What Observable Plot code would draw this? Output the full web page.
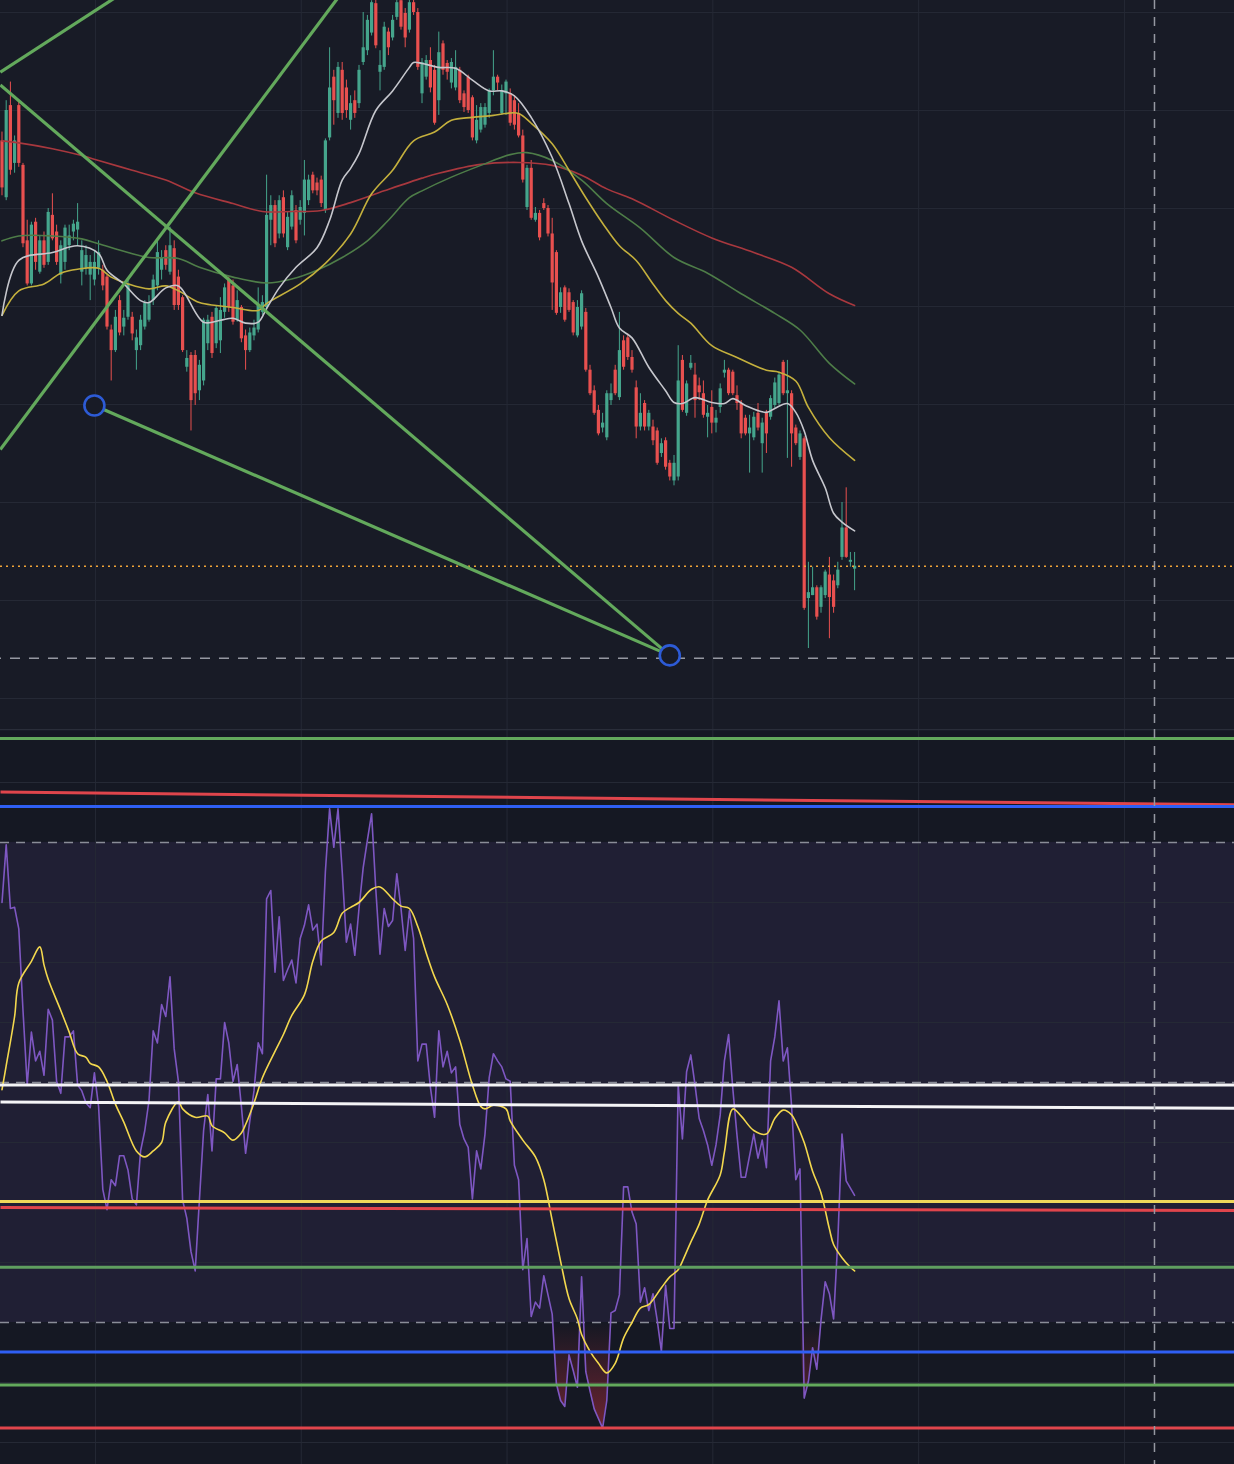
<!DOCTYPE html>
<html><head><meta charset="utf-8">
<script src="https://cdn.jsdelivr.net/npm/d3@7"></script>
<script src="https://cdn.jsdelivr.net/npm/@observablehq/plot@0.6"></script>
<style>
html,body{margin:0;padding:0;background:#181b26;}
#chart{width:1234px;height:1464px;overflow:hidden;}
#chart svg{display:block;}
</style></head>
<body><div id="chart"></div>
<script>
// ---------- price candles (one per bar) ----------
const open = [669,611,705,646,705,644,567,523,586,535,567,545,593,576,532,545,562,576,578,535,539,532,527,539,537,530,476,455,506,479,489,489,455,460,479,486,506,521,537,557,535,559,530,509,438,450,450,414,424,462,489,462,465,494,527,521,486,499,470,455,470,476,494,499,588,603,574,611,560,581,598,588,595,608,634,626,629,598,672,734,697,741,723,690,710,707,749,761,779,809,739,744,780,774,795,812,799,782,810,800,717,734,751,741,710,768,748,728,723,741,717,734,713,669,680,685,697,720,734,697,717,717,710,697,674,601,641,588,595,605,600,574,555,499,519,514,504,470,479,494,435,414,394,376,366,404,435,407,465,468,448,417,377,401,377,377,373,350,363,340,322,326,445,391,437,430,419,411,387,397,381,397,432,435,433,409,401,386,370,366,391,360,391,387,399,401,443,411,411,376,346,365,202,205,213,193,205,226,220,215,244,274,239,232];
const high = [678,710,729,674,710,646,588,586,590,572,576,600,615,583,567,583,583,588,605,567,562,552,557,567,542,532,481,496,511,496,529,494,476,491,506,511,532,567,557,562,581,567,537,511,455,453,455,445,488,491,494,501,509,523,530,527,516,501,476,478,486,519,511,634,613,608,613,618,596,618,603,608,649,634,637,631,633,671,764,741,749,749,731,715,720,746,800,797,812,817,761,790,784,797,817,820,804,817,820,804,753,756,764,746,780,771,751,753,761,744,720,736,715,705,707,707,722,761,736,726,731,722,715,707,680,644,649,601,598,610,603,590,557,519,521,518,506,506,516,498,440,419,399,391,414,421,440,494,470,472,455,424,411,404,394,384,376,365,366,343,348,460,450,424,450,442,427,424,399,414,394,421,445,437,435,419,404,389,389,392,401,386,394,409,427,433,445,445,414,379,373,367,239,234,215,215,231,244,226,239,300,315,249,249];
const low = [613,608,634,636,642,560,521,521,537,533,539,542,567,542,523,537,557,567,562,521,532,506,521,532,516,476,424,453,470,470,486,465,435,455,476,484,501,516,527,537,532,496,496,453,433,373,399,404,419,455,447,457,452,488,494,481,484,463,435,453,465,473,491,496,562,560,569,570,557,578,564,583,572,603,615,613,601,595,669,685,692,690,692,680,692,702,746,756,776,763,720,741,756,771,792,782,764,779,797,741,707,731,718,685,695,736,731,722,720,707,698,697,669,666,677,682,692,715,720,695,695,684,680,672,626,598,588,586,567,598,571,496,491,493,484,494,470,468,476,433,409,389,368,371,363,399,409,404,435,445,432,365,373,373,373,358,338,346,333,322,317,322,392,388,435,386,404,386,366,370,371,391,427,409,409,394,365,368,330,363,373,330,350,384,396,399,409,345,336,358,343,190,151,205,180,187,202,161,187,212,241,243,234,210];
const close = [621,700,639,669,646,564,523,583,545,567,542,596,569,545,562,580,572,584,586,557,552,545,545,555,521,479,455,489,473,488,523,472,468,486,503,503,527,555,550,542,562,501,501,455,447,404,411,440,486,486,452,498,496,519,499,484,506,467,455,473,478,501,504,593,603,564,608,574,591,613,567,601,629,629,618,618,605,669,723,710,744,697,700,707,697,741,764,792,810,766,746,785,764,792,810,785,774,810,800,744,749,751,723,687,759,741,739,749,744,710,703,700,672,690,703,703,720,734,728,720,729,687,685,674,629,641,590,595,570,600,574,524,493,514,486,496,473,499,513,435,411,391,370,381,411,411,411,455,438,448,435,377,391,377,391,363,340,360,336,326,340,424,394,421,442,404,412,389,391,381,386,416,435,411,411,401,370,370,376,387,376,381,370,406,422,430,411,414,370,360,370,192,208,213,183,213,229,203,193,231,274,244,241,235];

// ---------- moving averages on price: [bar, value] ----------
const maFast = [[0,491],[4,547],[12,555],[18,562],[23,554],[25,537],[29,523],[33,506],[35,504],[39,519],[42,521],[48,484],[52,486],[55,488],[58,483],[61,484],[63,498],[66,519],[70,540],[75,560],[78,588],[81,629],[83,641],[85,656],[89,700],[93,720],[97,744],[98,749],[100,748],[104,744],[108,743],[112,731],[116,720],[119,720],[122,715],[126,693],[131,652],[135,605],[138,567],[142,530],[145,499],[147,478],[150,468],[154,438],[158,414],[160,402],[162,401],[165,407],[169,402],[172,401],[174,406],[177,399],[182,392],[184,396],[187,401],[189,392],[191,373],[193,343],[196,315],[198,289],[200,280],[203,271]];
const maMid = [[0,491],[4,516],[10,523],[14,534],[18,538],[23,539],[26,530],[30,523],[35,518],[39,521],[42,516],[47,504],[51,501],[55,499],[61,496],[63,503],[71,523],[77,544],[83,574],[88,615],[93,639],[98,669],[103,678],[107,690],[112,693],[117,695],[120,697],[123,697],[126,687],[131,666],[135,639],[139,611],[143,585],[147,562],[151,547],[155,523],[158,506],[161,493],[164,483],[169,460],[175,448],[182,435],[185,433],[189,424],[192,397],[197,366],[203,343]];
const maSlow = [[0,567],[4,572],[12,572],[19,569],[23,564],[30,555],[35,550],[42,549],[47,540],[55,530],[63,524],[69,528],[75,537],[81,550],[87,567],[92,588],[97,611],[100,618],[107,632],[114,644],[121,655],[125,657],[131,649],[138,629],[144,605],[152,580],[160,550],[168,534],[176,513],[184,493],[190,476],[197,442],[203,421]];
const maLong = [[0,669],[4,667],[12,661],[19,654],[23,649],[31,639],[39,629],[46,616],[55,605],[62,597],[69,597],[76,598],[83,606],[91,618],[100,631],[104,636],[114,645],[123,647],[131,644],[138,634],[144,620],[150,610],[160,588],[169,570],[179,555],[188,540],[197,513],[203,501]];

// ---------- drawings on the price pane ----------
const trendLines = [
  {x1:-0.4, y1:739, x2:33,  y2:832},
  {x1:-0.4, y1:354, x2:84,  y2:838},
  {x1:-0.4, y1:726, x2:159, y2:144},
  {x1:22,   y1:399, x2:159, y2:144}
];
const anchors = [{x:22, y:399}, {x:159, y:144}];
const lastPrice = [235];
const supportLevel = [141];
const cursorBar = [274.4];
const priceGrid = [100,200,300,400,500,600,700,800];
const timeGrid = [22.25,71.25,120.25,169.25,218.25,267.25];

// ---------- RSI (one per bar) and its moving average ----------
const rsi = [65.0,69.8,64.5,64.6,62.8,56.0,49.8,54.2,51.8,52.6,50.6,56.1,55.2,50.1,49.1,53.8,53.8,54.3,49.8,49.3,48.3,47.9,50.8,48.0,41.1,39.4,41.9,41.4,43.9,43.9,42.7,40.3,39.8,44.3,46.0,48.5,54.3,53.3,56.5,55.5,58.8,52.8,50.1,40.2,38.7,35.9,34.3,40.2,46.0,49.0,44.3,50.3,50.3,55.0,53.3,50.1,51.5,48.0,44.1,46.8,49.3,53.3,52.4,65.3,66.0,59.2,63.8,58.5,59.4,60.2,58.3,62.0,63.1,64.8,62.7,63.2,59.8,67.6,72.8,69.6,72.8,67.6,61.7,63.2,60.6,64.5,67.9,70.2,72.4,66.1,60.7,64.5,63.0,63.5,67.4,64.5,61.0,64.3,62.0,51.8,53.2,53.2,49.6,47.1,54.3,51.3,52.6,50.8,51.3,46.5,45.3,44.6,40.3,44.3,42.8,45.7,50.4,52.4,51.8,51.3,50.3,50.1,43.1,41.9,34.4,37.0,30.5,31.7,31.2,33.9,32.3,30.7,24.9,23.5,23.0,27.3,26.0,24.6,33.8,25.9,24.3,22.8,22.0,21.2,23.5,30.8,31.0,32.3,41.3,41.3,39.2,38.2,31.7,32.9,31.0,32.4,30.2,27.6,33.1,29.5,29.5,49.8,45.3,50.9,52.3,49.8,47.0,46.0,44.8,43.1,44.8,47.3,51.8,54.0,49.5,45.6,42.1,42.1,43.9,45.7,43.7,45.2,42.9,51.8,53.8,56.8,51.8,52.9,48.0,41.9,42.8,23.7,25.1,27.9,26.1,30.2,33.4,32.4,30.3,36.8,45.7,41.8,41.2,40.6];
const rsiMA = [[0,49.4],[1,51.4],[3,55.5],[4,58.3],[7,60.1],[9,61.3],[10,59.8],[11,58.6],[14,56.0],[16,54.2],[18,52.4],[20,52.1],[21,51.6],[23,51.3],[25,50.1],[27,48.2],[29,46.7],[32,44.3],[34,43.8],[36,44.3],[38,45.0],[39,46.7],[42,48.4],[43,47.8],[46,47.1],[49,47.2],[50,46.4],[53,45.8],[55,45.2],[57,45.8],[58,46.5],[60,48.3],[62,50.4],[65,52.6],[67,54.0],[69,55.6],[72,57.3],[74,60.1],[76,61.8],[79,62.5],[81,64.1],[83,64.6],[85,65.0],[88,66.1],[90,66.3],[93,65.3],[95,64.7],[97,64.5],[99,63.0],[101,60.8],[103,58.8],[106,56.5],[109,53.5],[112,49.8],[114,48.0],[115,47.8],[117,48.1],[120,47.8],[121,46.8],[124,45.2],[127,43.8],[129,41.9],[131,38.5],[133,35.1],[135,32.0],[137,30.3],[138,29.0],[140,27.6],[142,26.6],[144,25.8],[146,26.6],[148,28.7],[150,30.0],[152,31.2],[154,31.5],[157,32.9],[159,33.8],[161,34.4],[162,35.1],[164,36.7],[166,38.2],[168,40.2],[171,42.3],[172,44.2],[174,47.8],[176,47.2],[179,46.0],[182,45.7],[184,47.0],[186,47.7],[188,47.3],[189,46.7],[191,45.0],[193,42.6],[195,40.8],[197,37.8],[198,36.5],[200,35.4],[202,34.6],[203,34.3]];
const rsiBandLevels = [70, 50, 30];
const rsiGrid = [20,25,35,40,45,55,60,65,75];
const rsiFlatLines = [
  {v:78.67, c:"#63a95c"}, {v:73.0, c:"#2f5ff5"}, {v:49.8, c:"#f4f4f6"},
  {v:40.08, c:"#efd85a"}, {v:34.6, c:"#5f9f5f"}, {v:27.55, c:"#2f5ff5"},
  {v:24.8, c:"#63a95c"}, {v:21.2, c:"#e0454c"}
];
const rsiSlopedLines = [
  {a:74.2, b:73.15, c:"#e0454c"},
  {a:48.37, b:47.85, c:"#f4f4f6"},
  {a:39.58, b:39.33, c:"#e0454c"}
];

// ---------- build ----------
const W = 1234;
const xDomain = [-0.357, 293.452];
const gridColor = "#252935";
const upColor = "#45a58c", downColor = "#e8504f";
const green = "#63a95c";
const candles = open.map((o, i) => ({i, o, h: high[i], l: low[i], c: close[i]}));
const ups = candles.filter(d => d.c >= d.o);
const downs = candles.filter(d => d.c < d.o);
const px = d => d[0], py = d => d[1];

const topPane = Plot.plot({
  width: W, height: 729, margin: 0,
  x: {domain: xDomain, axis: null},
  y: {domain: [68.37, 812.24], axis: null},
  color: {type: "identity"},
  style: {background: "#181b26", overflow: "hidden"},
  marks: [
    Plot.ruleX(timeGrid, {stroke: gridColor}),
    Plot.ruleY(priceGrid, {stroke: gridColor}),
    Plot.ruleX(ups, {x: "i", y1: "l", y2: "h", stroke: upColor, strokeWidth: 1, clip: true}),
    Plot.ruleX(downs, {x: "i", y1: "l", y2: "h", stroke: downColor, strokeWidth: 1, clip: true}),
    Plot.ruleX(ups, {x: "i", y1: "o", y2: "c", stroke: upColor, strokeWidth: 3.2, clip: true}),
    Plot.ruleX(downs, {x: "i", y1: "o", y2: "c", stroke: downColor, strokeWidth: 3.2, clip: true}),
    Plot.line(maLong, {x: px, y: py, stroke: "#a8383e", strokeWidth: 1.6, curve: "catmull-rom"}),
    Plot.line(maSlow, {x: px, y: py, stroke: "#4e7d48", strokeWidth: 1.6, curve: "catmull-rom"}),
    Plot.line(maMid, {x: px, y: py, stroke: "#c4b03d", strokeWidth: 1.6, curve: "catmull-rom"}),
    Plot.line(maFast, {x: px, y: py, stroke: "#c6c7cd", strokeWidth: 1.6, curve: "catmull-rom"}),
    Plot.ruleY(lastPrice, {stroke: "#f0a438", strokeWidth: 1.5, strokeDasharray: "2,4"}),
    Plot.ruleY(supportLevel, {stroke: "#9598a1", strokeWidth: 1.5, strokeDasharray: "10,9", strokeDashoffset: -10}),
    Plot.link(trendLines, {x1: "x1", y1: "y1", x2: "x2", y2: "y2", stroke: green, strokeWidth: 3.2, clip: true}),
    Plot.dot(anchors, {x: "x", y: "y", r: 10, stroke: "#2d5bd6", strokeWidth: 2.6, fill: "#181b26"}),
    Plot.ruleX(cursorBar, {stroke: "#9598a1", strokeWidth: 1.5, strokeDasharray: "9,8"})
  ]
});

const rsiBand = [{lo: 30, hi: 70}];
const bottomPane = Plot.plot({
  width: W, height: 735, margin: 0,
  x: {domain: xDomain, axis: null},
  y: {domain: [18.167, 79.417], axis: null},
  color: {type: "identity"},
  style: {background: "#151823", overflow: "hidden"},
  marks: [
    Plot.rect(rsiBand, {x1: () => xDomain[0], x2: () => xDomain[1], y1: "lo", y2: "hi", fill: "#7e57c2", fillOpacity: 0.11}),
    Plot.ruleX(timeGrid, {stroke: gridColor}),
    Plot.ruleY(rsiGrid, {stroke: gridColor}),
    Plot.frame({anchor: "top", stroke: "#2a2e3a", strokeWidth: 1.5}),
    Plot.ruleY(rsiBandLevels, {stroke: "#8a8d98", strokeWidth: 1.5, strokeDasharray: "9,7"}),
    Plot.areaY(rsi, {x: (d, i) => i, y1: () => 30, y2: d => Math.min(d, 30), fill: "url(#osGrad)"}),
    Plot.areaY(rsi, {x: (d, i) => i, y1: () => 70, y2: d => Math.max(d, 70), fill: "url(#obGrad)"}),
    Plot.line(rsi, {x: (d, i) => i, y: d => d, stroke: "#7e57c2", strokeWidth: 1.6}),
    Plot.line(rsiMA, {x: px, y: py, stroke: "#f3d84e", strokeWidth: 1.6, curve: "catmull-rom"}),
    Plot.link(rsiSlopedLines, {x1: () => xDomain[0], x2: () => xDomain[1], y1: "a", y2: "b", stroke: "c", strokeWidth: 3}),
    Plot.ruleY(rsiFlatLines, {y: "v", stroke: "c", strokeWidth: 3}),
    Plot.ruleX(cursorBar, {stroke: "#9598a1", strokeWidth: 1.5, strokeDasharray: "9,8"})
  ]
});

// gradient fills for the overbought / oversold zones, positioned with the RSI scale
const ys = bottomPane.scale("y");
const NS = "http://www.w3.org/2000/svg";
function addGradient(svg, id, color, from, to, maxOpacity) {
  let defs = svg.querySelector("defs");
  if (!defs) { defs = document.createElementNS(NS, "defs"); svg.insertBefore(defs, svg.firstChild); }
  const g = document.createElementNS(NS, "linearGradient");
  g.setAttribute("id", id);
  g.setAttribute("gradientUnits", "userSpaceOnUse");
  g.setAttribute("x1", 0); g.setAttribute("x2", 0);
  g.setAttribute("y1", ys.apply(from)); g.setAttribute("y2", ys.apply(to));
  [[0, 0], [1, maxOpacity]].forEach(([o, a]) => {
    const s = document.createElementNS(NS, "stop");
    s.setAttribute("offset", o); s.setAttribute("stop-color", color); s.setAttribute("stop-opacity", a);
    g.appendChild(s);
  });
  defs.appendChild(g);
}
addGradient(bottomPane, "osGrad", "#f23645", 30, 20, 0.45);
addGradient(bottomPane, "obGrad", "#26a69a", 70, 80, 0.45);

const root = document.getElementById("chart");
root.appendChild(topPane);
root.appendChild(bottomPane);
</script>
</body></html>
